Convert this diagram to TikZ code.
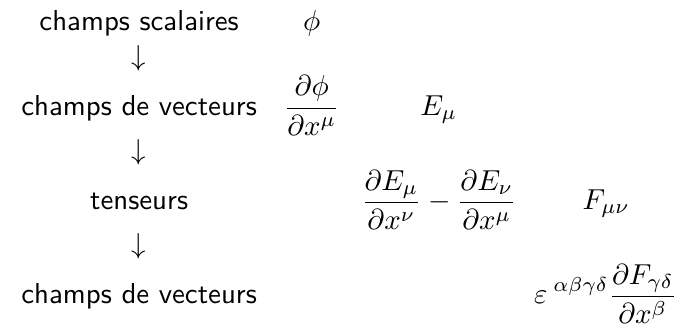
\documentclass[tikz,border=0pt]{standalone}
\usepackage{amsmath}
\begin{document}
\begin{tikzpicture}[x=1pt,y=1pt,
  lab/.style={anchor=base,inner sep=0pt,font=\sffamily},
  mth/.style={anchor=base,inner sep=0pt},
  arr/.style={anchor=base,inner sep=0pt}]
\useasboundingbox (0,0) rectangle (238,-114.3);
% column 1
\node[lab] (l1) at (48.2,-10.7) {champs scalaires};
\node[arr] (a1) at (48.2,-22.7) {$\downarrow$};
\node[lab] (l2) at (48.2,-40.0) {champs de vecteurs};
\node[arr] (a2) at (48.2,-55.3) {$\downarrow$};
\node[lab] (l3) at (48.2,-72.6) {tenseurs};
\node[arr] (a3) at (48.2,-87.9) {$\downarrow$};
\node[lab] (l4) at (48.2,-105.2) {champs de vecteurs};
% column 2
\node[mth] (phi) at (108,-10.7) {$\phi$};
\node[mth] (dphi) at (108,-40.0) {$\dfrac{\partial\phi}{\partial x^{\mu}}$};
% column 3
\node[mth] (E) at (152,-40.0) {$E_{\mu}$};
\node[mth] (dE) at (152,-72.6) {$\dfrac{\partial E_{\mu}}{\partial x^{\nu}}-\dfrac{\partial E_{\nu}}{\partial x^{\mu}}$};
% column 4
\node[mth] (F) at (210,-72.6) {$F_{\mu\nu}$};
\node[mth] (dF) at (209.8,-105.2) {$\displaystyle\varepsilon^{\hspace{2pt}\alpha\beta\gamma\delta}\frac{\partial F_{\gamma\delta}}{\partial x^{\beta}}$};
\end{tikzpicture}
\end{document}
